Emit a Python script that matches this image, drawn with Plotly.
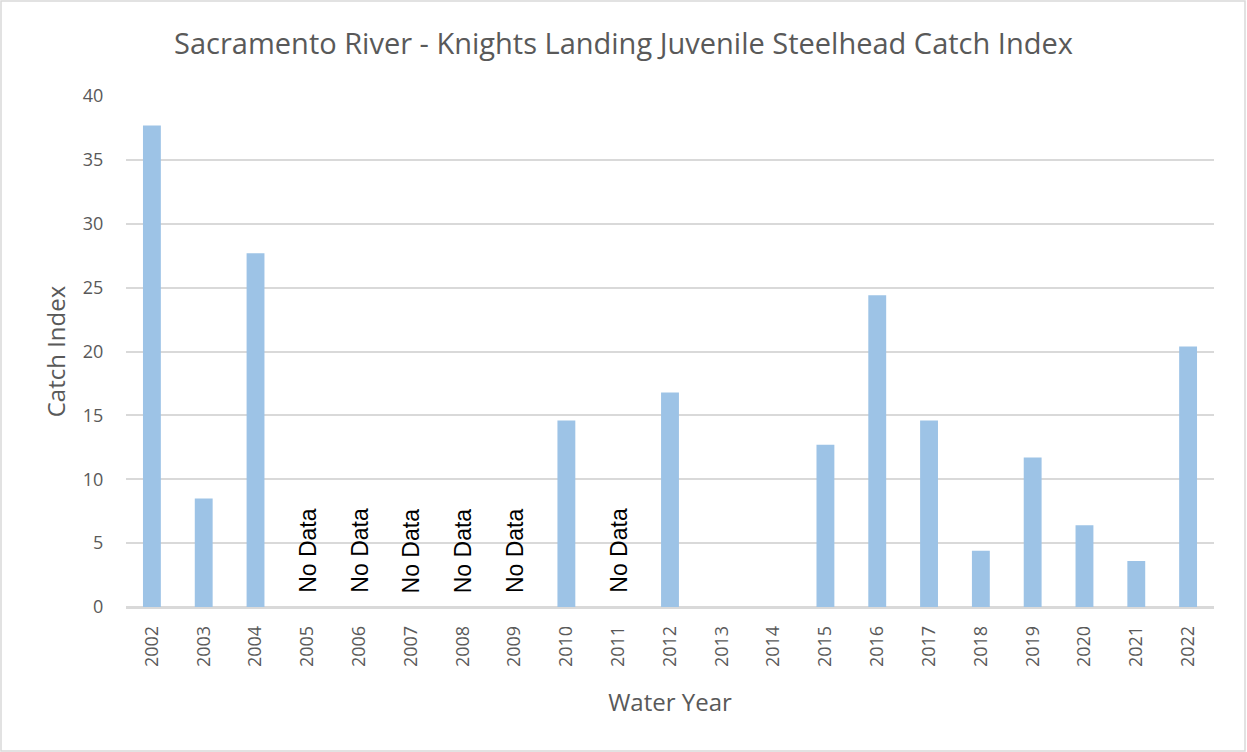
import plotly.graph_objects as go

years = [str(y) for y in range(2002, 2023)]
catch_index = [37.7, 8.5, 27.7, None, None, None, None, None, 14.6, None, 16.8,
               0, 0, 12.7, 24.4, 14.6, 4.4, 11.7, 6.4, 3.6, 20.4]
no_data_years = ["2005", "2006", "2007", "2008", "2009", "2011"]

W, H = 1247, 752
ml, mr, mt, mb = 126, 33, 96, 145
pw, ph = W - ml - mr, H - mt - mb

gray = "#595959"
font_family = "Open Sans, Lato, sans-serif"

fig = go.Figure()
fig.add_trace(go.Bar(
    x=years, y=catch_index,
    marker=dict(color="#9DC3E6", line=dict(width=0)),
    hoverinfo="x+y",
))

for yr in no_data_years:
    fig.add_annotation(
        x=years.index(yr), y=0, xref="x", yref="y",
        text="No Data", textangle=-90, showarrow=False,
        yanchor="bottom", xanchor="center", yshift=12,
        font=dict(family="Liberation Sans, Arial, sans-serif", size=23, color="#000000"),
    )

# outer chart border
fig.add_shape(
    type="rect", xref="paper", yref="paper",
    x0=(1 - ml) / pw, x1=(W - 2 - ml) / pw,
    y0=-(mb - 1) / ph, y1=(mt - 1) / ph + 1,
    line=dict(color="#d9d9d9", width=1.5), fillcolor="rgba(0,0,0,0)", layer="below",
)

fig.update_layout(
    width=W, height=H,
    margin=dict(l=ml, r=mr, t=mt, b=mb),
    paper_bgcolor="white", plot_bgcolor="white",
    bargap=0.655,
    showlegend=False,
    title=dict(
        text="Sacramento River - Knights Landing Juvenile Steelhead Catch Index",
        x=0.5, xref="container", xanchor="center", y=1 - 44 / H, yanchor="middle",
        font=dict(family=font_family, size=29, color=gray),
    ),
    font=dict(family=font_family, color=gray),
    xaxis=dict(
        type="category", tickangle=-90, range=[-0.5, len(years) - 0.5],
        tickfont=dict(size=18, color=gray),
        showgrid=False, showline=True, linecolor="#d9d9d9", linewidth=1.5,
        ticks="outside", ticklen=10, tickcolor="rgba(0,0,0,0)",
        title=dict(text="Water Year", font=dict(size=24, color=gray), standoff=28),
    ),
    yaxis=dict(
        range=[0, 40], dtick=5, tickfont=dict(size=18, color=gray),
        showgrid=True, gridcolor="#d9d9d9", gridwidth=1.5,
        zeroline=True, zerolinecolor="#d9d9d9", zerolinewidth=1.5,
        ticks="outside", ticklen=18, tickcolor="rgba(0,0,0,0)",
        title=dict(text="Catch Index", font=dict(size=24, color=gray), standoff=10),
    ),
)

fig.write_html("out.html", config={"displayModeBar": False},
               post_script="document.body.style.margin='0';")
